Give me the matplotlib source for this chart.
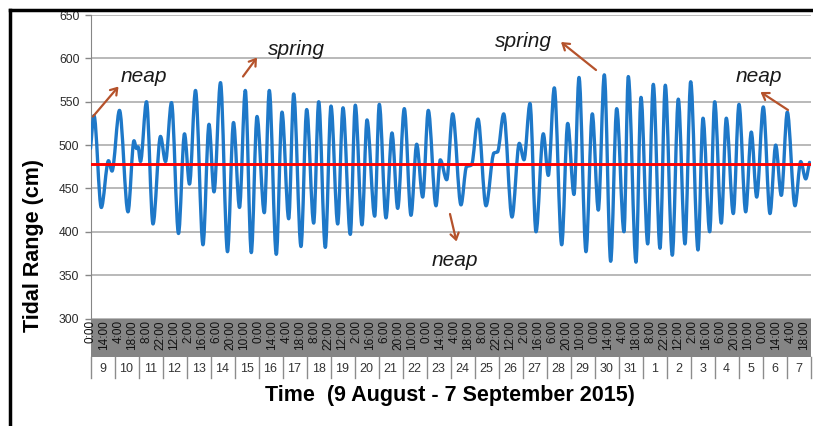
import numpy as np
import matplotlib
matplotlib.use("Agg")
import matplotlib.pyplot as plt
from matplotlib.path import Path
from matplotlib.patches import PathPatch, Rectangle
import matplotlib.transforms as mtransforms
from matplotlib.lines import Line2D

plt.rcParams['font.family'] = ['Liberation Sans', 'DejaVu Sans']

# ---------------- data ----------------
# turning points of the series: hours since 9 Aug 2015 00:00, level in cm
hours = [0, 3.5, 10.8, 18, 21.5, 29, 37.5, 43.5, 46, 47.5, 50, 56, 62.5, 70, 75, 81,
         88, 94, 99, 105, 112.5, 118.5, 123.5, 130, 137, 143, 149, 154.8, 160.8,
         166.5, 173.8, 178.8, 185.8, 191.5, 198.2, 203.2, 210.5, 216.2, 223.2,
         228.2, 234.8, 240.5, 247.2, 252.5, 259.8, 264.8, 271.5, 276.5, 284.2,
         288.8, 295.5, 301.5, 307.2, 313.8, 320.5, 326.2, 332.2, 337.8, 345.5,
         349.8, 356.2, 362.2, 370.5, 376, 381, 387.5, 395.5, 403.5, 407, 413.2,
         421.5, 428.8, 433.5, 439.5, 445.5, 452.8, 457.8, 463.8, 471.2, 477.2,
         483.5, 488.5, 495.5, 501.8, 507.8, 513.8, 520.2, 526.2, 533.5, 537.8,
         545.5, 550.5, 557.2, 562.8, 569.5, 574.8, 581.8, 587.8, 594.5, 600.2,
         607.5, 612.5, 619.2, 624.2, 630.8, 635.8, 642.8, 648.5, 655.2, 660.8,
         666.2, 672.8, 679.5, 685.2, 690.8, 696.8, 704.5, 710.2, 715.2, 719]
tidal_range = [496, 534, 428, 482, 470, 540, 423, 505, 496, 498, 481, 550, 409, 510, 481, 549,
               398, 513, 455, 563, 385, 524, 446, 572, 377, 526, 428, 563, 376,
               533, 422, 563, 374, 538, 415, 559, 383, 541, 410,
               550, 382, 545, 409, 543, 397, 546, 408, 529, 418,
               547, 416, 514, 427, 542, 419, 501, 440, 540, 430,
               483, 460, 536, 431, 475, 477, 530, 430, 491, 492, 536,
               417, 502, 483, 548, 400, 513, 465, 566, 385, 525,
               443, 578, 377, 536, 425, 581, 366, 542, 400, 579,
               365, 555, 386, 570, 381, 569, 373, 553, 386, 573,
               379, 531, 400, 550, 410, 531, 421, 547, 423, 515,
               440, 544, 421, 500, 442, 538, 430, 481, 461, 480]
mean_level = 478
day_labels = [9, 10, 11, 12, 13, 14, 15, 16, 17, 18, 19, 20, 21, 22, 23, 24, 25,
              26, 27, 28, 29, 30, 31, 1, 2, 3, 4, 5, 6, 7]
time_tick_hours = list(range(0, 720, 14))
time_tick_labels = [f"{h % 24}:00" for h in time_tick_hours]
y_ticks = [300, 350, 400, 450, 500, 550, 600, 650]

# ---------------- figure ----------------
W, H = 813, 426
fig = plt.figure(figsize=(W / 100, H / 100), dpi=100)
ax_left, ax_right, ax_top, ax_bot = 90.5, 810.5, 15.0, 318.5
ax = fig.add_axes([ax_left / W, (H - ax_bot) / H, (ax_right - ax_left) / W,
                   (ax_bot - ax_top) / H])
ax.set_xlim(0, 24 * len(day_labels))
ax.set_ylim(300, 650)
ax.set_yticks(y_ticks)
ax.tick_params(axis='y', labelsize=8.7, labelcolor='#2A2A2A', length=4, pad=4,
               width=1, color='#868686')
ax.set_xticks([])
ax.grid(axis='y', color='#A6A6A6', lw=1.1)
ax.set_axisbelow(True)
for s in ['top', 'right', 'bottom']:
    ax.spines[s].set_visible(False)
ax.spines['left'].set_color('#868686')


def ay(ypix):
    """axes-fraction y for a figure pixel row (from top)"""
    return (ax_bot - ypix) / (ax_bot - ax_top)


# smooth line through turning points (monotone cubic, like Excel smoothing)
x = np.asarray(hours, float)
y = np.asarray(tidal_range, float)
hseg = np.diff(x)
d = np.diff(y) / hseg
m = np.zeros_like(y)
for k in range(1, len(x) - 1):
    if d[k - 1] * d[k] > 0:
        w1 = 2 * hseg[k] + hseg[k - 1]
        w2 = hseg[k] + 2 * hseg[k - 1]
        m[k] = (w1 + w2) / (w1 / d[k - 1] + w2 / d[k])
m[0] = d[0]
m[-1] = d[-1]
verts = [(x[0], y[0])]
codes = [Path.MOVETO]
for i in range(len(x) - 1):
    dx = x[i + 1] - x[i]
    verts += [(x[i] + dx / 3, y[i] + m[i] * dx / 3),
              (x[i + 1] - dx / 3, y[i + 1] - m[i + 1] * dx / 3),
              (x[i + 1], y[i + 1])]
    codes += [Path.CURVE4] * 3
ax.add_patch(PathPatch(Path(verts, codes), facecolor='none',
                       edgecolor='#1E78C8', lw=2.4, capstyle='round',
                       joinstyle='round', zorder=3))

ax.axhline(mean_level, color='#FF0000', lw=2.1, zorder=4)

# ---------------- category axis ----------------
trans = mtransforms.blended_transform_factory(ax.transData, ax.transAxes)
band_top, band_bot, day_bot = 318.5, 357.0, 378.0
ax.add_patch(Rectangle((0, ay(band_bot)), 1, ay(band_top) - ay(band_bot),
                       transform=ax.transAxes, facecolor='#858585',
                       edgecolor='none', clip_on=False, zorder=1))
for h, lab in zip(time_tick_hours, time_tick_labels):
    ax.text(h, ay(band_top + 1.5), lab, transform=trans, rotation=90,
            ha='center', va='top', fontsize=8.5, color='#111111',
            clip_on=False)
for i in range(len(day_labels) + 1):
    ax.add_line(Line2D([24 * i, 24 * i], [ay(band_bot), ay(day_bot)],
                       transform=trans, color='#8C8C8C', lw=1,
                       clip_on=False))
for i, dl in enumerate(day_labels):
    ax.text(24 * i + 12, ay(368.5), str(dl), transform=trans, ha='center',
            va='center', fontsize=9, color='#333333', clip_on=False)

fig.text(450 / W, 1 - 395 / H, 'Time  (9 August - 7 September 2015)',
         ha='center', va='center', fontsize=15.5, fontweight='bold')
fig.text(34 / W, 1 - 246 / H, 'Tidal Range (cm)', rotation=90,
         ha='center', va='center', fontsize=15.5, fontweight='bold')

# ---------------- annotations ----------------
acol = '#B5522B'
labels = [('neap', 121, 82), ('spring', 268, 55), ('spring', 495, 47),
          ('neap', 736, 82), ('neap', 432, 266)]
for t, px, py in labels:
    fig.text(px / W, 1 - py / H, t, ha='left', va='baseline', fontsize=15,
             style='italic', color='#1A1A1A')
arrows = [((93, 116.5), (118.5, 86.5)), ((243, 76.5), (257, 57.5)),
          ((596, 70), (561, 42)), ((788, 110), (760.5, 92)),
          ((450, 214), (456.5, 241.5))]
for (x0, y0), (x1, y1) in arrows:
    ax.annotate('', xy=(x1, H - y1), xycoords='figure pixels',
                xytext=(x0, H - y0), textcoords='figure pixels',
                arrowprops=dict(arrowstyle='->,head_length=0.45,head_width=0.3',
                                color=acol, lw=1.6, shrinkA=0, shrinkB=0))

# outer frame
fig.add_artist(Line2D([9.5 / W, 9.5 / W], [0, 1 - 9.5 / H],
                      transform=fig.transFigure, color='black', lw=2.5))
fig.add_artist(Line2D([9.5 / W, 1], [1 - 9.5 / H, 1 - 9.5 / H],
                      transform=fig.transFigure, color='black', lw=2.5))

fig.savefig('out.png', dpi=100)
